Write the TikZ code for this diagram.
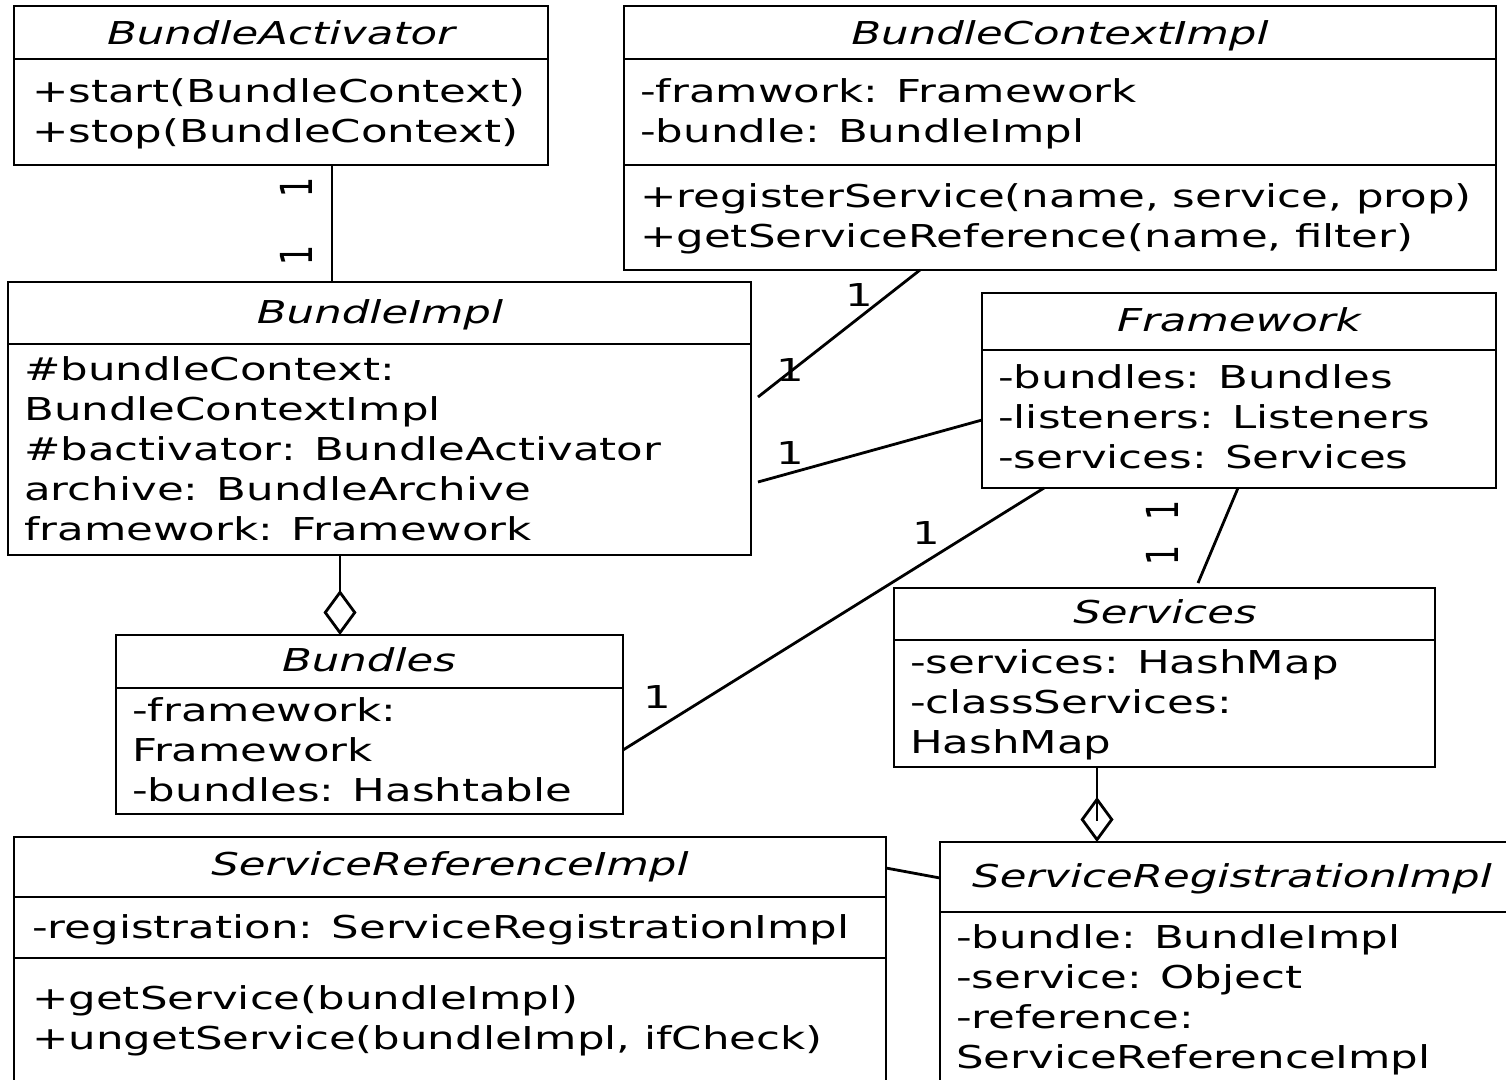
\documentclass[tikz,border=0pt]{standalone}
\usepackage{fontspec}
\setmainfont{DejaVu Sans}[FakeStretch=1.38]
\newfontfamily\multfont{DejaVu Sans}
\usetikzlibrary{arrows.meta, calc}

\begin{document}
\begin{tikzpicture}[x=1pt, y=-1pt,
  cbox/.style={draw, line width=1.3pt, inner sep=0pt, outer sep=0pt, anchor=north west},
  csep/.style={line width=1.3pt},
  ctitle/.style={anchor=base, inner sep=0pt, font=\fontsize{31.5}{40}\selectfont\itshape},
  cbody/.style={anchor=north west, inner sep=0pt, align=left, font=\fontsize{31.5}{40}\selectfont},
  assoc/.style={line width=2.8pt},
  aggr/.style={assoc, -{Diamond[open, length=45pt, width=33pt]}},
  mult/.style={inner sep=0pt, font=\fontsize{31.5}{40}\selectfont},
  vmult/.style={inner sep=0pt, rotate=90, yscale=1.4, font=\multfont\fontsize{31.5}{40}\selectfont}
]
  \useasboundingbox (0,0) rectangle (1506,1079);
  \clip (0,0) rectangle (1506,1079);

  % BundleActivator
  \node[cbox, minimum width=534pt, minimum height=159pt] (act) at (14,6) {};
  \draw[csep] ($(act.north west)+(0,53)$) -- ($(act.north east)+(0,53)$);
  \node[ctitle] (act-t) at (281,44) {BundleActivator};
  \node[cbody] (act-o) at (32,74) {\strut+start(BundleContext)\\+stop(BundleContext)};

  % BundleContextImpl
  \node[cbox, minimum width=872pt, minimum height=264pt] (bci) at (624,6) {};
  \draw[csep] ($(bci.north west)+(0,53)$) -- ($(bci.north east)+(0,53)$);
  \draw[csep] ($(bci.north west)+(0,159)$) -- ($(bci.north east)+(0,159)$);
  \node[ctitle] (bci-t) at (1060,44) {BundleContextImpl};
  \node[cbody] (bci-a) at (640,74) {\strut-framwork: Framework\\-bundle: BundleImpl};
  \node[cbody] (bci-o) at (640,179) {\strut+registerService(name, service, prop)\\+getServiceReference(name, filter)};

  % BundleImpl
  \node[cbox, minimum width=743pt, minimum height=273pt] (bimpl) at (8,282) {};
  \draw[csep] ($(bimpl.north west)+(0,62)$) -- ($(bimpl.north east)+(0,62)$);
  \node[ctitle] (bimpl-t) at (380,323) {BundleImpl};
  \node[cbody] (bimpl-a) at (24,352) {\strut\#bundleContext:\\BundleContextImpl\\\#bactivator: BundleActivator\\archive: BundleArchive\\framework: Framework};

  % Framework
  \node[cbox, minimum width=514pt, minimum height=195pt] (fw) at (982,293) {};
  \draw[csep] ($(fw.north west)+(0,57)$) -- ($(fw.north east)+(0,57)$);
  \node[ctitle] (fw-t) at (1239,331) {Framework};
  \node[cbody] (fw-a) at (998,360) {\strut-bundles: Bundles\\-listeners: Listeners\\-services: Services};

  % Bundles
  \node[cbox, minimum width=507pt, minimum height=179pt] (bdl) at (116,635) {};
  \draw[csep] ($(bdl.north west)+(0,53)$) -- ($(bdl.north east)+(0,53)$);
  \node[ctitle] (bdl-t) at (369,671) {Bundles};
  \node[cbody] (bdl-a) at (132,693) {\strut-framework:\\Framework\\-bundles: Hashtable};

  % Services
  \node[cbox, minimum width=541pt, minimum height=179pt] (svc) at (894,588) {};
  \draw[csep] ($(svc.north west)+(0,52)$) -- ($(svc.north east)+(0,52)$);
  \node[ctitle] (svc-t) at (1165,623) {Services};
  \node[cbody] (svc-a) at (910,645) {\strut-services: HashMap\\-classServices:\\HashMap};

  % ServiceReferenceImpl
  \node[cbox, minimum width=872pt, minimum height=260pt] (sref) at (14,837) {};
  \draw[csep] ($(sref.north west)+(0,60)$) -- ($(sref.north east)+(0,60)$);
  \draw[csep] ($(sref.north west)+(0,121)$) -- ($(sref.north east)+(0,121)$);
  \node[ctitle] (sref-t) at (450,875) {ServiceReferenceImpl};
  \node[cbody] (sref-a) at (32,910) {\strut-registration: ServiceRegistrationImpl};
  \node[cbody] (sref-o) at (32,981) {\strut+getService(bundleImpl)\\+ungetService(bundleImpl, ifCheck)};

  % ServiceRegistrationImpl
  \node[cbox, minimum width=584pt, minimum height=255pt] (sreg) at (940,842) {};
  \draw[csep] ($(sreg.north west)+(0,70)$) -- ($(sreg.north east)+(0,70)$);
  \node[ctitle] (sreg-t) at (1232,887) {ServiceRegistrationImpl};
  \node[cbody] (sreg-a) at (956,920) {\strut-bundle: BundleImpl\\-service: Object\\-reference:\\ServiceReferenceImpl};

  % associations
  \draw[assoc] ($(act.south west)+(318,0)$) -- ($(bimpl.north west)+(324,0)$);
  \draw[assoc] ($(bci.south west)+(296,0)$) -- ($(bimpl.north east)+(7,115)$);
  \draw[assoc] ($(fw.north west)+(0,127)$) -- ($(bimpl.north east)+(7,200)$);
  \draw[assoc] ($(fw.south west)+(62,0)$) -- ($(bdl.north east)+(0,115)$);
  \draw[assoc] ($(fw.south west)+(256,0)$) -- ($(svc.north west)+(304,-5)$);
  \draw[assoc] ($(sref.north east)+(0,31)$) -- ($(sreg.north west)+(0,36)$);
  \draw[aggr] ($(bimpl.south west)+(332,0)$) -- ($(bdl.north west)+(224,0)$);
  \draw[aggr] ($(svc.south west)+(203,0)$) -- ($(sreg.north west)+(157,0)$);
  \draw[assoc] ($(svc.south west)+(203,0)$) -- ($(sreg.north west)+(157,-21)$);

  % multiplicities
  \node[vmult] (m1) at (296,187) {1};
  \node[vmult] (m2) at (296,255) {1};
  \node[mult] (m3) at (859,295) {1};
  \node[mult] (m4) at (790,370) {1};
  \node[mult] (m5) at (790,453) {1};
  \node[mult] (m6) at (926,533) {1};
  \node[mult] (m7) at (657,697) {1};
  \node[vmult] (m8) at (1162,510) {1};
  \node[vmult] (m9) at (1162,555) {1};
\end{tikzpicture}
\end{document}
